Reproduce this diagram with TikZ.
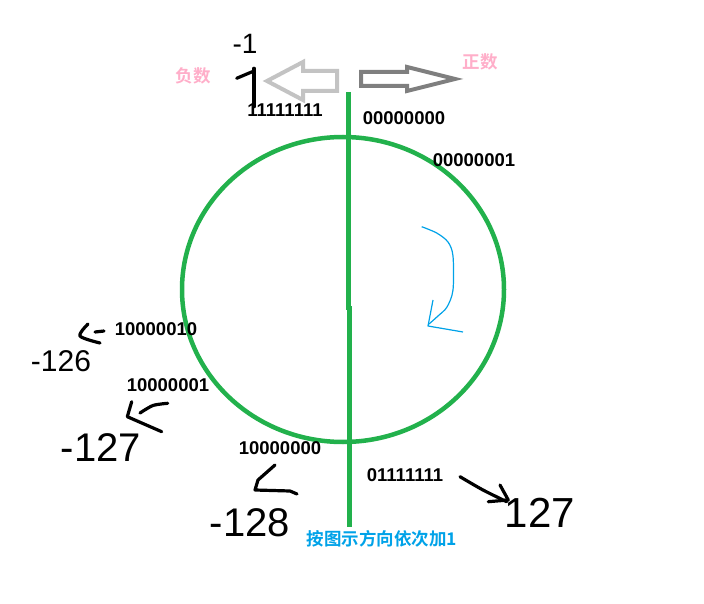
\documentclass[tikz,border=0pt]{standalone}
\usepackage{fontspec}
\setmainfont{Liberation Sans}
\newfontfamily\cjk{Noto Sans CJK SC}[BoldFont={Noto Sans CJK SC Bold}]
\usepackage{tikz}
\definecolor{ringgreen}{HTML}{22B14C}
\definecolor{notepink}{HTML}{FFAEC9}
\definecolor{noteblue}{HTML}{00A2E8}
\definecolor{lightarrow}{HTML}{C3C3C3}
\definecolor{darkarrow}{HTML}{7F7F7F}
\def\binfont{\fontsize{18.5}{20}\selectfont\bfseries}
\def\handfont#1{\fontsize{#1}{#1}\selectfont}

\begin{document}
\begin{tikzpicture}[x=1pt,y=-1pt,
	bin/.style={font=\binfont, inner sep=0pt},
	note/.style={font=\cjk\bfseries\fontsize{17.5}{18}\selectfont, inner sep=0pt},
	hand/.style={line width=3.2pt, line cap=round, line join=round},
	handnum/.style={inner sep=0pt}]
			%%%%% START %%%%%
			\useasboundingbox (0,0) rectangle (704,604);
			
			% ring and axis
			\draw[ringgreen, line width=4.5pt] (343,289.5) ellipse [x radius=161pt, y radius=152.5pt];
			\draw[ringgreen, line width=4.5pt] (348.5,92) -- (348.5,310);
			\draw[ringgreen, line width=4.5pt] (349.5,306) -- (349.5,527);
			
			% hollow arrows
			\draw[lightarrow, line width=4pt, line join=miter] (337,71) -- (303,71) -- (303,62) -- (267,81) -- (303,100) -- (303,91) -- (337,91) -- cycle;
			\draw[darkarrow, line width=4pt, line join=miter] (361,72) -- (407,72) -- (407,67) -- (455,79) -- (407,91) -- (407,86) -- (361,86) -- cycle;
			\node[note, color=notepink] (neg) at (193,76) {负数};
			\node[note, color=notepink] (pos) at (480,62) {正数};
			
			% binary labels
			\node[bin] (b255) at (285,110) {11111111};
			\node[bin] (b0) at (404,118) {00000000};
			\node[bin] (b1) at (474,160) {00000001};
			\node[bin] (b130) at (156,329) {10000010};
			\node[bin] (b129) at (168,385) {10000001};
			\node[bin] (b128) at (280,448) {10000000};
			\node[bin] (b127) at (405,475) {01111111};
			\node[note, color=noteblue] (rule) at (382,539) {按图示方向依次加1};
			
			% direction
			\draw[noteblue, line width=1.2pt, line join=round] plot[smooth] coordinates {(421.7,226.7) (436.7,233) (448,242) (453,256) (453,290) (447,307) (438,316) (429,324)};
			\draw[noteblue, line width=1.2pt, line join=round] (433,300) -- (428,326) -- (463,332);
			
			% handwritten values
			\node[handnum, font=\handfont{28}] (m1) at (245,44) {-1};
			\node[handnum, font=\handfont{30}] (m126) at (61,361) {-126};
			\node[handnum, font=\handfont{40}] (m127) at (101,448) {-127};
			\node[handnum, font=\handfont{40}] (m128) at (250,523) {-128};
			\node[handnum, font=\handfont{42}] (p127) at (540,513) {127};
			
			\draw[hand] (236.7,78.3) -- (252.3,71.7);
			\draw[hand] (254,68.3) -- (254,106.7);
			
			\draw[hand] plot[smooth] coordinates {(88,324) (80,336) (100,343)};
			\draw[hand] (95,332) -- (104,331);
			
			\draw[hand] (131.7,401.7) -- (127.3,416.7) -- (161.7,431.7);
			\draw[hand] plot[smooth] coordinates {(167.7,403.3) (153,405.5) (140,413)};
			
			\draw[hand] (275,465) -- (258,480) -- (255,490) -- (290,491) -- (297,494);
			
			\draw[hand] plot[smooth] coordinates {(460,476.7) (483,490) (506.7,501.7)};
			\draw[hand] (500,485) -- (508.3,500) -- (488.3,501.7);
			%%%%% END %%%%%
\end{tikzpicture}
\end{document}
